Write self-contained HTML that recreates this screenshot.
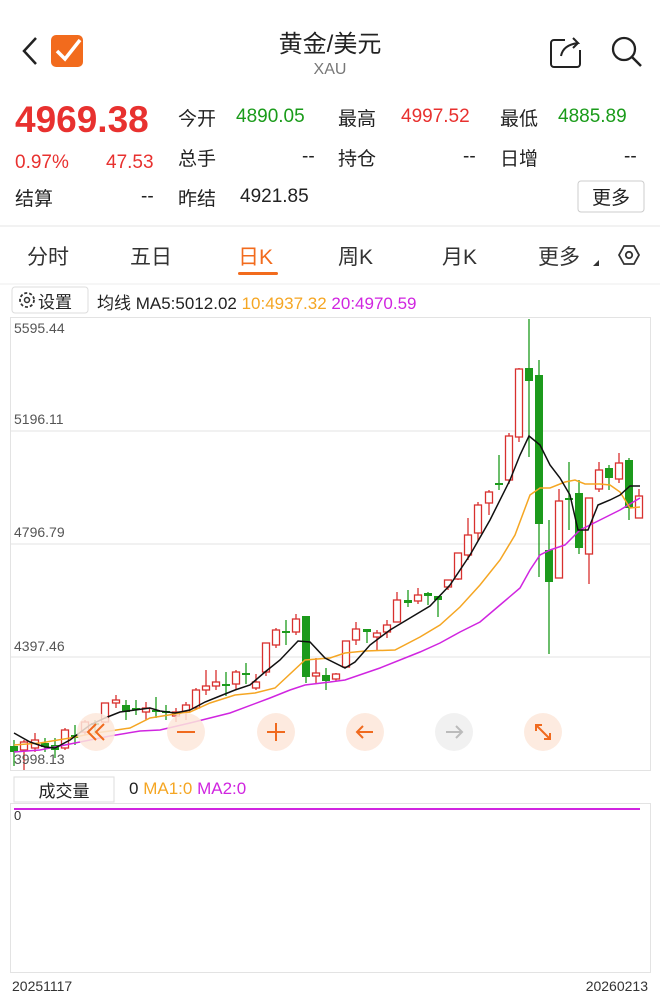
<!DOCTYPE html>
<html><head><meta charset="utf-8"><style>
body{margin:0;width:660px;height:1002px;background:#fff;font-family:"Liberation Sans","Noto Sans CJK SC",sans-serif;position:relative;overflow:hidden;color:#222}
.a{position:absolute;white-space:nowrap}
</style></head><body>
<svg class="a" style="left:0;top:0" width="660" height="1002">
<polyline points="36,38 24,51 36,64" fill="none" stroke="#222" stroke-width="2.5"/>
<rect x="51" y="35" width="32" height="32" rx="5" fill="#f26b1d"/>
<polyline points="57,51 65,59 80,40" fill="none" stroke="#fff" stroke-width="3.5"/>
<rect x="551" y="40" width="29" height="27" rx="3" fill="none" stroke="#222" stroke-width="2"/>
<rect x="565" y="34" width="18" height="16" fill="#fff"/>
<path d="M561 56 Q563 45 578 43 L573 38 M578 43 L573 48" fill="none" stroke="#222" stroke-width="2"/>
<circle cx="624" cy="49" r="11" fill="none" stroke="#222" stroke-width="2.3"/>
<line x1="632" y1="57" x2="641" y2="66" stroke="#222" stroke-width="2.5"/>
<rect x="578" y="181" width="66" height="31" rx="3" fill="none" stroke="#ccc"/>
<line x1="0" y1="226" x2="660" y2="226" stroke="#e5e5e5"/>
<rect x="238" y="272" width="40" height="3" rx="1.5" fill="#f26b1d"/>
<polygon points="619,255 624,246 634,246 639,255 634,264 624,264" fill="none" stroke="#333" stroke-width="1.8"/>
<circle cx="629" cy="255" r="3.2" fill="none" stroke="#333" stroke-width="1.8"/>
<polygon points="593,266 599,260 599,266" fill="#333"/>
<line x1="0" y1="284" x2="660" y2="284" stroke="#eee"/>
<rect x="12" y="287" width="76" height="26" rx="3" fill="#fff" stroke="#ddd"/>
<circle cx="27" cy="300" r="7" fill="none" stroke="#333" stroke-width="1.8" stroke-dasharray="3 2"/>
<circle cx="27" cy="300" r="2.5" fill="none" stroke="#333" stroke-width="1.5"/>
<rect x="10.5" y="317.5" width="640" height="453" fill="none" stroke="#e3e3e3"/>
<g stroke="#e3e3e3"><line x1="10" y1="431" x2="650" y2="431"/><line x1="10" y1="544" x2="650" y2="544"/><line x1="10" y1="657" x2="650" y2="657"/></g>
<g id="c"></g>
<polyline fill="none" stroke="#d025e0" stroke-width="1.5" points="14,752 40,750 65,745 90,740 110,736 140,731 160,730 190,723 230,713 270,698 290,690 305,685 330,682 345,680 380,668 420,652 440,643 460,632 480,622 500,605 520,588 530,570 540,555 550,550 565,545 580,530 600,520 620,510 640,498"/>
<polyline fill="none" stroke="#f5a623" stroke-width="1.5" points="14,745 40,743 70,738 95,733 110,731 130,728 150,718 175,714 190,712 210,703 235,695 255,693 275,688 305,660 330,658 345,653 365,651 395,650 420,637 440,625 460,607 480,585 500,560 515,535 530,495 540,488 550,488 565,482 575,480 585,484 600,484 610,485 620,492 630,508 640,507"/>
<polyline fill="none" stroke="#111" stroke-width="1.5" points="14,733 30,742 45,747 55,748 70,740 90,725 105,718 120,712 135,710 150,708 160,711 175,713 190,710 205,702 220,696 235,690 250,685 265,672 280,660 298,641 310,642 325,658 345,668 355,662 370,645 390,630 410,618 430,606 450,585 470,555 490,520 510,480 520,455 529,436 540,445 550,465 560,478 570,495 578,530 588,530 598,505 610,500 620,495 630,486 640,486"/>
<g fill="#fde7da" opacity="0.85"><circle cx="96" cy="732" r="19"/><circle cx="186" cy="732" r="19"/><circle cx="276" cy="732" r="19"/><circle cx="365" cy="732" r="19"/><circle cx="543" cy="732" r="19"/></g>
<circle cx="454" cy="732" r="19" fill="#f1f1f1"/>
<g stroke="#f06a1e" stroke-width="2" fill="none">
<polyline points="96,724 88,732 96,740"/><polyline points="104,724 96,732 104,740"/>
<line x1="177" y1="732" x2="195" y2="732"/>
<line x1="267" y1="732" x2="285" y2="732"/><line x1="276" y1="723" x2="276" y2="741"/>
<line x1="357" y1="732" x2="373" y2="732"/><polyline points="363,726 357,732 363,738"/>
<line x1="536" y1="725" x2="550" y2="739"/><polyline points="536,731 536,725 542,725"/><polyline points="544,739 550,739 550,733"/>
</g>
<g stroke="#bbb" stroke-width="2" fill="none"><line x1="446" y1="732" x2="462" y2="732"/><polyline points="456,726 462,732 456,738"/></g>
<rect x="14" y="777" width="100" height="25" fill="#fff" stroke="#ddd"/>
<rect x="10.5" y="803.5" width="640" height="169" fill="none" stroke="#e3e3e3"/>
<line x1="14" y1="809" x2="640" y2="809" stroke="#d025e0" stroke-width="2"/>
</svg>
<div class="a" style="left:0;width:660px;top:24px;text-align:center;font-size:24px">黄金/美元</div>
<div class="a" style="left:0;width:660px;top:61px;text-align:center;font-size:16px;color:#777">XAU</div>
<div class="a" style="left:15px;top:99px;font-size:37px;font-weight:bold;color:#e8312f">4969.38</div>
<div class="a" style="left:178px;top:104px;font-size:19px">今开</div>
<div class="a" style="left:236px;top:106px;font-size:19px;color:#1a9b1a">4890.05</div>
<div class="a" style="left:338px;top:104px;font-size:19px">最高</div>
<div class="a" style="left:401px;top:106px;font-size:19px;color:#e8312f">4997.52</div>
<div class="a" style="left:500px;top:104px;font-size:19px">最低</div>
<div class="a" style="left:558px;top:106px;font-size:19px;color:#1a9b1a">4885.89</div>
<div class="a" style="left:15px;top:152px;font-size:19px;color:#e8312f">0.97%</div>
<div class="a" style="left:106px;top:152px;font-size:19px;color:#e8312f">47.53</div>
<div class="a" style="left:178px;top:144px;font-size:19px">总手</div>
<div class="a" style="left:302px;top:146px;font-size:19px">--</div>
<div class="a" style="left:338px;top:144px;font-size:19px">持仓</div>
<div class="a" style="left:463px;top:146px;font-size:19px">--</div>
<div class="a" style="left:500px;top:144px;font-size:19px">日增</div>
<div class="a" style="left:624px;top:146px;font-size:19px">--</div>
<div class="a" style="left:15px;top:184px;font-size:19px">结算</div>
<div class="a" style="left:141px;top:186px;font-size:19px">--</div>
<div class="a" style="left:178px;top:184px;font-size:19px">昨结</div>
<div class="a" style="left:240px;top:186px;font-size:19px">4921.85</div>
<div class="a" style="left:578px;top:183px;width:66px;text-align:center;font-size:19px">更多</div>
<div class="a" style="left:27px;top:241px;font-size:21px;color:#333">分时</div>
<div class="a" style="left:130px;top:241px;font-size:21px;color:#333">五日</div>
<div class="a" style="left:238px;top:241px;font-size:21px;color:#f26b1d">日K</div>
<div class="a" style="left:338px;top:241px;font-size:21px;color:#333">周K</div>
<div class="a" style="left:442px;top:241px;font-size:21px;color:#333">月K</div>
<div class="a" style="left:538px;top:241px;font-size:21px;color:#333">更多</div>
<div class="a" style="left:38px;top:288px;font-size:17px">设置</div>
<div class="a" style="left:97px;top:289px;font-size:17px">均线 MA5:5012.02 <span style="color:#f5a623">10:4937.32</span> <span style="color:#d025e0">20:4970.59</span></div>
<div class="a" style="left:14px;top:320px;font-size:14px;color:#555">5595.44</div>
<div class="a" style="left:14px;top:411px;font-size:14px;color:#555">5196.11</div>
<div class="a" style="left:14px;top:524px;font-size:14px;color:#555">4796.79</div>
<div class="a" style="left:14px;top:638px;font-size:14px;color:#555">4397.46</div>
<div class="a" style="left:14px;top:751px;font-size:14px;color:#555">3998.13</div>
<div class="a" style="left:14px;top:777px;width:100px;text-align:center;font-size:17px">成交量</div>
<div class="a" style="left:129px;top:779px;font-size:17px">0 <span style="color:#f5a623">MA1:0</span> <span style="color:#d025e0">MA2:0</span></div>
<div class="a" style="left:14px;top:808px;font-size:13px;color:#333">0</div>
<div class="a" style="left:12px;top:978px;font-size:14px;color:#333">20251117</div>
<div class="a" style="right:12px;top:978px;font-size:14px;color:#333">20260213</div>
<script>
var d=[[14,'G',746,752,740,766],[24,'R',742,750,740,770],[35,'R',740,748,733,752],[45,'G',743,747,738,752],[55,'G',745,750,738,758],[65,'R',730,748,728,750],[75,'G',735,738,725,745],[85,'R',722,732,720,735],[95,'G',723,725,720,735],[105,'R',703,722,703,723],[116,'R',700,703,695,708],[126,'G',705,712,700,720],[136,'G',708,710,700,715],[146,'R',708,712,702,720],[156,'G',710,712,697,718],[166,'G',711,712,705,720],[176,'R',712,716,708,722],[186,'R',705,712,702,720],[196,'R',690,708,688,710],[206,'R',686,690,670,695],[216,'R',682,686,670,690],[226,'G',684,686,672,696],[236,'R',672,684,670,690],[246,'G',673,675,663,684],[256,'R',682,688,674,690],[266,'R',643,672,643,676],[276,'R',630,645,628,648],[286,'G',631,633,620,645],[296,'R',619,632,614,635],[306,'G',616,677,616,683],[316,'R',673,676,658,684],[326,'G',675,681,668,690],[336,'R',674,679,673,681],[346,'R',641,667,641,668],[356,'R',629,640,622,645],[367,'G',629,632,629,643],[377,'R',633,637,630,650],[387,'R',625,632,620,638],[397,'R',600,622,592,622],[408,'G',600,603,590,607],[418,'R',595,601,588,604],[428,'G',593,596,592,605],[438,'G',596,600,596,617],[448,'R',580,587,580,590],[458,'R',553,579,553,580],[468,'R',535,555,518,560],[478,'R',505,533,502,541],[489,'R',492,503,490,515],[499,'G',483,485,455,490],[509,'R',436,480,433,484],[519,'R',369,437,368,442],[529,'G',368,381,319,457],[539,'G',375,524,360,577],[549,'G',550,582,520,654],[559,'R',501,578,489,578],[569,'G',498,500,462,530],[579,'G',493,548,480,554],[589,'R',498,554,498,584],[599,'R',470,489,462,492],[609,'G',468,478,465,490],[619,'R',463,479,453,483],[629,'G',460,508,458,520],[639,'R',496,518,489,518]];
var s='';d.forEach(function(c){var col=c[1]=='R'?'#d8302e':'#1c9a1c';var h=Math.max(c[3]-c[2],2);
s+='<line x1="'+c[0]+'" y1="'+c[4]+'" x2="'+c[0]+'" y2="'+c[5]+'" stroke="'+col+'" stroke-width="1.3"/>';
if(c[1]=='R')s+='<rect x="'+(c[0]-3.5)+'" y="'+c[2]+'" width="7" height="'+h+'" fill="#fff" stroke="'+col+'" stroke-width="1.3"/>';
else s+='<rect x="'+(c[0]-4)+'" y="'+c[2]+'" width="8" height="'+h+'" fill="'+col+'"/>';});
document.getElementById('c').innerHTML=s;
</script>
</body></html>
